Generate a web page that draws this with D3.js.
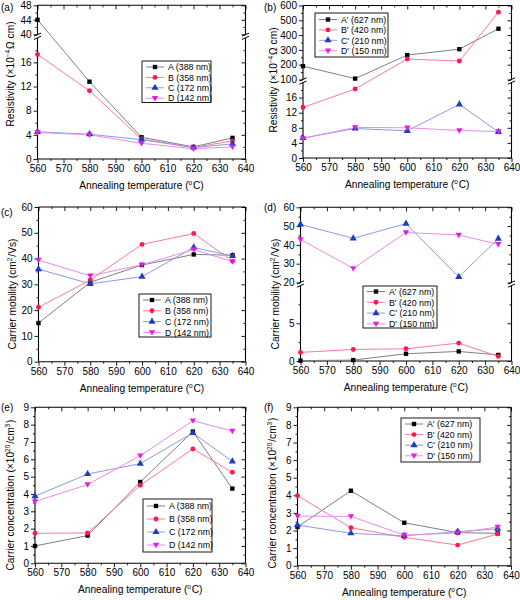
<!DOCTYPE html>
<html><head><meta charset="utf-8">
<script src="https://cdn.jsdelivr.net/npm/d3@7"></script>
<style>body{margin:0;background:#fff} svg{display:block} text{font-family:"Liberation Sans",Arial,sans-serif;fill:#000}</style>
</head><body><svg id="c" width="520" height="600"></svg>
<script>
// ---------- data ----------
const temps = [560, 580, 600, 620, 635];
const xMajor = [560, 570, 580, 590, 600, 610, 620, 630, 640];
const xMinor = [565, 575, 585, 595, 605, 615, 625, 635];
const namesL = ["A (388 nm)", "B (358 nm)", "C (172 nm)", "D (142 nm)"];
const namesR = ["A' (627 nm)", "B' (420 nm)", "C' (210 nm)", "D' (150 nm)"];

// (a) resistivity, left set
const resA = [44, 12.8, 3.6, 2.0, 3.5];
const resB = [17.3, 11.3, 3.3, 1.9, 3.0];
const resC = [4.5, 4.1, 3.2, 1.9, 2.5];
const resD = [4.4, 4.0, 2.6, 1.7, 2.0];
// (b) resistivity, primed set
const resA2 = [190, 106, 265, 305, 443];
const resB2 = [13.4, 18.3, 238, 225, 555];
const resC2 = [5.3, 7.8, 7.2, 14.2, 6.9];
const resD2 = [5.2, 8.1, 8.0, 7.3, 7.0];
// (c) mobility
const mobA = [15.0, 30.8, 37.5, 41.6, 41.3];
const mobB = [21.1, 31.7, 45.5, 49.7, 39.0];
const mobC = [35.9, 30.2, 33.0, 44.3, 41.0];
const mobD = [39.4, 33.3, 37.6, 43.5, 38.8];
// (d) mobility primed
const mobA2 = [0.05, 0.12, 0.96, 1.27, 0.8];
const mobB2 = [1.14, 1.53, 1.62, 2.37, 0.61];
const mobC2 = [50.9, 43.5, 51.3, 23.0, 43.3];
const mobD2 = [42.9, 27.5, 46.6, 45.3, 40.3];
// (e) concentration
const conA = [1.0, 1.6, 4.69, 7.6, 4.31];
const conB = [1.73, 1.75, 4.5, 6.6, 5.25];
const conC = [3.87, 5.15, 5.75, 7.52, 5.88];
const conD = [3.56, 4.54, 6.21, 8.23, 7.63];
// (f) concentration primed
const conA2 = [2.2, 4.26, 2.44, 1.88, 1.84];
const conB2 = [3.98, 2.16, 1.61, 1.17, 1.8];
const conC2 = [2.31, 1.84, 1.7, 1.93, 2.1];
const conD2 = [2.82, 2.8, 1.74, 1.86, 2.2];

// y tick labels
const yResLow = [0, 4, 8, 12, 16], yResLowMinor = [2, 6, 10, 14, 18];
const yResHighA = [40, 44, 48], yResHighAMinor = [42, 46];
const yResHighB = [100, 200, 300, 400, 500, 600], yResHighBMinor = [150, 250, 350, 450, 550];
const yMob = [0, 10, 20, 30, 40, 50, 60], yMobMinor = [5, 15, 25, 35, 45, 55];
const yMobLow = [0, 5], yMobLowMinor = [2.5, 7.5];
const yMobHigh = [20, 30, 40, 50, 60], yMobHighMinor = [25, 35, 45, 55];
const yCon = [0, 1, 2, 3, 4, 5, 6, 7, 8, 9], yConMinor = [0.5, 1.5, 2.5, 3.5, 4.5, 5.5, 6.5, 7.5, 8.5];

// ---------- styles ----------
const lineCol = ["#808080", "#ff7a98", "#8a9be6", "#ee88ee"];
const markCol = ["#000000", "#ff1a4a", "#1f3cc0", "#e020e0"];
const symbols = [d3.symbolSquare, d3.symbolCircle, d3.symbolTriangle, "tridown"];

const svg = d3.select("#c");

function rich(sel, parts) {
  parts.forEach(p => {
    if (typeof p === "string") sel.append("tspan").text(p);
    else {
      sel.append("tspan").attr("font-size", "6.5px").attr("dy", "-4").text(p.sup);
      sel.append("tspan").attr("dy", "4").text("\u200a");
    }
  });
}

function marker(g, type, cx, cy, col) {
  if (type === "tridown") {
    const s = 3.2;
    g.append("path").attr("d", `M${cx - s},${cy - s * 0.7}L${cx + s},${cy - s * 0.7}L${cx},${cy + s * 1.0}Z`).attr("fill", col);
  } else {
    const size = type === d3.symbolSquare ? 19 : type === d3.symbolCircle ? 19 : 22;
    g.append("path").attr("d", d3.symbol().type(type).size(size)()).attr("transform", `translate(${cx},${cy})`).attr("fill", col);
  }
}

function panel(cfg) {
  const g = svg.append("g");
  const x = d3.scaleLinear().domain([560, 640]).range([cfg.x0, cfg.x1]);
  const segs = cfg.segs.map(s => Object.assign({}, s, { sc: d3.scaleLinear().domain(s.domain).range(s.range) }));
  const y = v => {
    for (const s of segs) if (v >= s.domain[0] && v <= s.domain[1]) return s.sc(v);
    return segs[0].sc(v);
  };
  const yBot = segs[0].range[0], yTop = segs[segs.length - 1].range[1];

  // x axes
  const xb = g.append("g").attr("transform", `translate(0,${yBot})`)
    .call(d3.axisBottom(x).tickValues(xMajor).tickSizeInner(4).tickSizeOuter(0).tickPadding(2).tickFormat(d3.format("d")));
  g.append("g").attr("transform", `translate(0,${yBot})`)
    .call(d3.axisBottom(x).tickValues(xMinor).tickSizeInner(2).tickSizeOuter(0).tickFormat(""));
  g.append("g").attr("transform", `translate(0,${yTop})`)
    .call(d3.axisTop(x).tickValues(xMajor).tickSizeInner(-4).tickSizeOuter(0).tickFormat(""));
  g.append("g").attr("transform", `translate(0,${yTop})`)
    .call(d3.axisTop(x).tickValues(xMinor).tickSizeInner(-2).tickSizeOuter(0).tickFormat(""));
  // y axes per segment
  segs.forEach(s => {
    g.append("g").attr("transform", `translate(${cfg.x0},0)`)
      .call(d3.axisLeft(s.sc).tickValues(s.major).tickSizeInner(4).tickSizeOuter(0).tickPadding(2).tickFormat(d3.format("")));
    g.append("g").attr("transform", `translate(${cfg.x0},0)`)
      .call(d3.axisLeft(s.sc).tickValues(s.minor).tickSizeInner(2).tickSizeOuter(0).tickFormat(""));
    g.append("g").attr("transform", `translate(${cfg.x1},0)`)
      .call(d3.axisRight(s.sc).tickValues(s.major).tickSizeInner(-4).tickSizeOuter(0).tickFormat(""));
    g.append("g").attr("transform", `translate(${cfg.x1},0)`)
      .call(d3.axisRight(s.sc).tickValues(s.minor).tickSizeInner(-2).tickSizeOuter(0).tickFormat(""));
  });
  g.selectAll(".domain").remove();
  g.selectAll(".tick line").attr("stroke", "#000").attr("stroke-width", 0.9);
  g.selectAll(".tick text").attr("font-size", "10px").attr("font-family", '"Liberation Sans",Arial,sans-serif').attr("fill", "#000");

  // frame
  const fr = g.append("g").attr("stroke", "#000").attr("stroke-width", 1.1).attr("fill", "none");
  fr.append("line").attr("x1", cfg.x0).attr("x2", cfg.x1).attr("y1", yBot).attr("y2", yBot);
  fr.append("line").attr("x1", cfg.x0).attr("x2", cfg.x1).attr("y1", yTop).attr("y2", yTop);
  segs.forEach(s => {
    [cfg.x0, cfg.x1].forEach(xx => {
      fr.append("line").attr("x1", xx).attr("x2", xx).attr("y1", s.range[0]).attr("y2", s.range[1]);
    });
  });
  for (let i = 0; i < segs.length - 1; i++) {
    const ym = (segs[i].range[1] + segs[i + 1].range[0]) / 2;
    [cfg.x0, cfg.x1].forEach(xx => {
      [-1.6, 1.6].forEach(o => {
        fr.append("line").attr("x1", xx - 3.5).attr("y1", ym + o + 1.6).attr("x2", xx + 3.5).attr("y2", ym + o - 1.6).attr("stroke-width", 1);
      });
    });
  }

  // series
  cfg.series.forEach((vals, i) => {
    const pts = temps.map((t, k) => [x(t), y(vals[k])]);
    g.append("path").attr("d", d3.line()(pts)).attr("fill", "none").attr("stroke", lineCol[i]).attr("stroke-width", 1);
  });
  cfg.series.forEach((vals, i) => {
    temps.forEach((t, k) => marker(g, symbols[i], x(t), y(vals[k]), markCol[i]));
  });

  // legend
  const L = cfg.legend;
  g.append("rect").attr("x", L.x).attr("y", L.y).attr("width", L.w).attr("height", L.h)
    .attr("fill", "#fff").attr("stroke", "#000").attr("stroke-width", 0.9);
  cfg.names.forEach((nm, i) => {
    const ry = L.y + L.r0 + i * L.step;
    g.append("line").attr("x1", L.x + 4).attr("x2", L.x + 22).attr("y1", ry).attr("y2", ry).attr("stroke", lineCol[i]).attr("stroke-width", 1);
    marker(g, symbols[i], L.x + 13, ry, markCol[i]);
    g.append("text").attr("x", L.x + 26).attr("y", ry + 3.2).attr("font-size", "8.8px").text(nm);
  });

  // titles
  const xt = g.append("text").attr("x", (cfg.x0 + cfg.x1) / 2).attr("y", yBot + 30).attr("text-anchor", "middle").attr("font-size", "10.2px");
  rich(xt, ["Annealing temperature (", { sup: "o" }, "C)"]);
  const yt = g.append("text").attr("transform", `translate(${cfg.ytx},${cfg.yty}) rotate(-90)`).attr("text-anchor", "middle").attr("font-size", "10.2px");
  rich(yt, cfg.ytitle);
  g.append("text").attr("x", cfg.lx).attr("y", cfg.ly).attr("font-size", "10px").text(cfg.label);
}

const resTitle = ["Resistivity (\u00d710", { sup: "\u22124" }, "\u03a9 cm)"];
const mobTitle = ["Carrier mobility (cm", { sup: "2" }, "/Vs)"];
const conTitle = ["Carrier concentration (\u00d710", { sup: "20" }, "/cm", { sup: "3" }, ")"];

panel({
  x0: 37.5, x1: 245.5, label: "(a)", lx: 1, ly: 11,
  segs: [{ domain: [0, 20], range: [159, 38.2], major: yResLow, minor: yResLowMinor },
         { domain: [40, 48], range: [34.3, 5.3], major: yResHighA, minor: yResHighAMinor }],
  series: [resA, resB, resC, resD], names: namesL,
  legend: { x: 142, y: 61, w: 69, h: 41.5, r0: 6, step: 10.4 },
  ytitle: resTitle, ytx: 14, yty: 74
});
panel({
  x0: 303, x1: 511.5, label: "(b)", lx: 264, ly: 11,
  segs: [{ domain: [0, 20], range: [158, 82.5], major: yResLow, minor: yResLowMinor },
         { domain: [100, 600], range: [79.5, 5.5], major: yResHighB, minor: yResHighBMinor }],
  series: [resA2, resB2, resC2, resD2], names: namesR,
  legend: { x: 315, y: 13, w: 73, h: 44, r0: 6.5, step: 10.4 },
  ytitle: resTitle, ytx: 277, yty: 80
});
panel({
  x0: 38.5, x1: 245.5, label: "(c)", lx: 1, ly: 216,
  segs: [{ domain: [0, 60], range: [361.7, 207], major: yMob, minor: yMobMinor }],
  series: [mobA, mobB, mobC, mobD], names: namesL,
  legend: { x: 139, y: 294, w: 72, h: 43, r0: 6, step: 10.8 },
  ytitle: mobTitle, ytx: 16, yty: 294
});
panel({
  x0: 300.5, x1: 511.5, label: "(d)", lx: 264, ly: 211,
  segs: [{ domain: [0, 10], range: [361, 285.5], major: yMobLow, minor: yMobLowMinor },
         { domain: [20, 60], range: [282.5, 207.3], major: yMobHigh, minor: yMobHighMinor }],
  series: [mobA2, mobB2, mobC2, mobD2], names: namesR,
  legend: { x: 363, y: 286, w: 74, h: 42, r0: 5.5, step: 10.8 },
  ytitle: mobTitle, ytx: 279, yty: 294
});
panel({
  x0: 35, x1: 245.5, label: "(e)", lx: 1, ly: 411,
  segs: [{ domain: [0, 9], range: [563.3, 407.3], major: yCon, minor: yConMinor }],
  series: [conA, conB, conC, conD], names: namesL,
  legend: { x: 143, y: 499, w: 69, h: 53, r0: 7, step: 13 },
  ytitle: conTitle, ytx: 14, yty: 495
});
panel({
  x0: 297.5, x1: 511, label: "(f)", lx: 264, ly: 411,
  segs: [{ domain: [0, 9], range: [565.7, 407.3], major: yCon, minor: yConMinor }],
  series: [conA2, conB2, conC2, conD2], names: namesR,
  legend: { x: 401, y: 418, w: 79, h: 44, r0: 6, step: 10.6 },
  ytitle: conTitle, ytx: 276, yty: 493
});
</script></body></html>
